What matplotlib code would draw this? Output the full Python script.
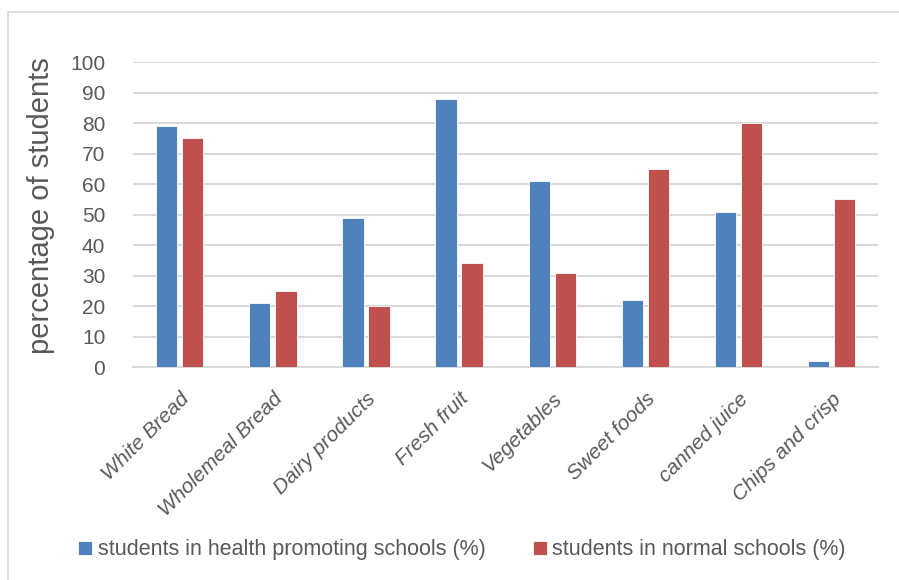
import numpy as np
import matplotlib.pyplot as plt
from matplotlib.patches import Rectangle

categories = ["White Bread", "Wholemeal Bread", "Dairy products", "Fresh fruit",
              "Vegetables", "Sweet foods", "canned juice", "Chips and crisp"]
health = [79, 21, 49, 88, 61, 22, 51, 2]
normal = [75, 25, 20, 34, 31, 65, 80, 55]
series_names = ["students in health promoting schools (%)", "students in normal schools (%)"]

plt.rcParams['font.family'] = ['Liberation Sans', 'DejaVu Sans']
txt = '#595959'

fig = plt.figure(figsize=(8.99, 5.80), dpi=100)
ax = fig.add_axes([0.148, 0.367, 0.829, 0.526])

x = np.arange(len(categories))
w = 0.23
ax.bar(x - 0.14, health, w, color='#4f81bd', edgecolor='white', linewidth=0.6,
       label=series_names[0], zorder=3)
ax.bar(x + 0.14, normal, w, color='#c0504d', edgecolor='white', linewidth=0.6,
       label=series_names[1], zorder=3)

ax.set_xlim(-0.5, 7.5)
ax.set_ylim(0, 100)
ax.set_yticks(range(0, 101, 10))
ax.yaxis.grid(True, color='#d9d9d9', linewidth=1.5, zorder=0)
for s in ['top', 'right', 'left']:
    ax.spines[s].set_visible(False)
ax.spines['bottom'].set_color('#d9d9d9')
ax.spines['bottom'].set_linewidth(1.5)
ax.tick_params(axis='both', length=0, colors=txt)
ax.tick_params(axis='y', pad=20, labelsize=15)
ax.tick_params(axis='x', pad=16)
ax.set_xticks(x)
ax.set_xticklabels(categories, rotation=45, ha='right', rotation_mode='anchor',
                   fontsize=15, style='italic', color=txt)
ax.set_ylabel("percentage of students", fontsize=21, color=txt)
ax.yaxis.set_label_coords(-0.105, 0.53)

ax.legend(loc='center', bbox_to_anchor=(0.514, 0.052), bbox_transform=fig.transFigure,
          ncol=2, frameon=False, fontsize=15.5, labelcolor=txt, handlelength=0.65,
          handleheight=0.65, handletextpad=0.25, columnspacing=2.2)

fig.patches.append(Rectangle((0.009, -0.05), 1.05, 1.0 - 0.021 + 0.05,
                             transform=fig.transFigure, fill=False,
                             edgecolor='#d9d9d9', linewidth=1.2))

fig.savefig("out.png", dpi=100)
